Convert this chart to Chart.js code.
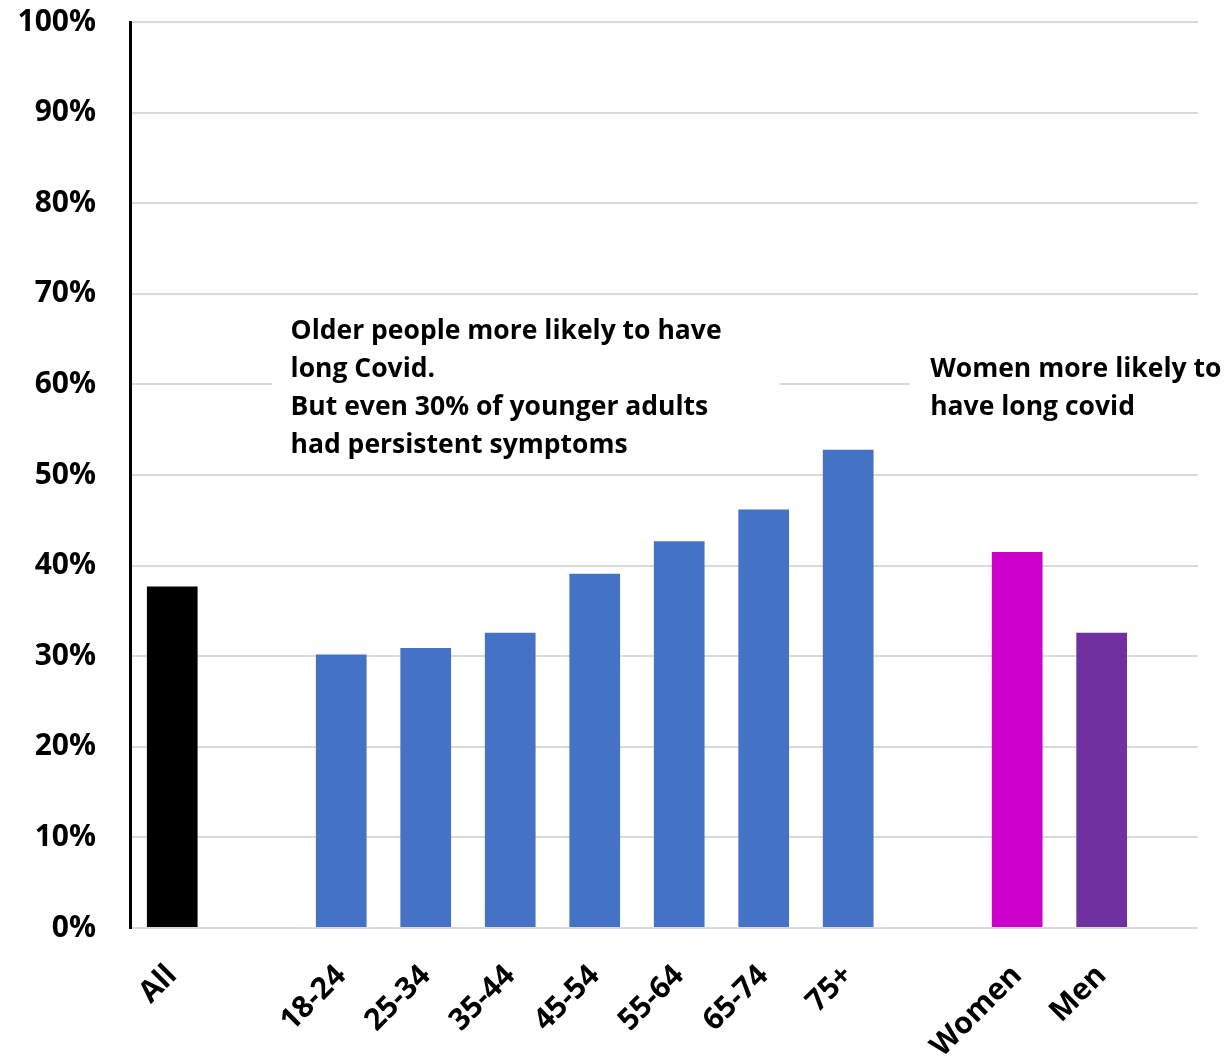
<!DOCTYPE html>
<html>
<head>
<meta charset="utf-8">
<title>Long Covid by group</title>
<script src="https://cdn.jsdelivr.net/npm/chart.js@4/dist/chart.umd.min.js"></script>
<style>
    body { margin: 0; background: #fff; }
    canvas { display: block; }
</style>
</head>
<body>
<canvas id="chart" width="1227" height="1059"></canvas>
<script>
// categories, with blank slots used as gaps between the groups
const categories = ['All', '', '18-24', '25-34', '35-44', '45-54', '55-64', '65-74', '75+', '', 'Women', 'Men'];
const shares = [37.7, null, 30.2, 30.9, 32.6, 39.1, 42.7, 46.2, 52.8, null, 41.5, 32.6];
const yTicks = [0, 10, 20, 30, 40, 50, 60, 70, 80, 90, 100];

const barColors = ['#000000', null, '#4472C4', '#4472C4', '#4472C4', '#4472C4', '#4472C4', '#4472C4', '#4472C4', null, '#CC00CC', '#7030A0'];

const notes = [
    { lines: ['Older people more likely to have', 'long Covid.', 'But even 30% of younger adults', 'had persistent symptoms'],
      x: 1.40, y: 65.8, box: [1.18, 7.19, 67.9, 50.4] },
    { lines: ['Women more likely to', 'have long covid'],
      x: 8.97, y: 61.6, box: [8.73, 12.6, 63.8, 55.5] }
];

const FONT = '"Open Sans", Lato, sans-serif';

// white boxes and text of the two notes, placed through the scales
const notesPlugin = {
    id: 'notes',
    beforeDatasetsDraw(chart) {
        const { ctx, scales: { x, y } } = chart;
        ctx.save();
        ctx.fillStyle = '#ffffff';
        notes.forEach(n => {
            const [x0, x1, y0, y1] = n.box;
            const left = x.getPixelForValue(x0);
            const right = Math.min(x.getPixelForValue(x1), chart.width);
            const top = y.getPixelForValue(y0);
            const bottom = y.getPixelForValue(y1);
            ctx.fillRect(left, top, right - left, bottom - top);
        });
        ctx.restore();
    },
    afterDatasetsDraw(chart) {
        const { ctx, scales: { x, y } } = chart;
        ctx.save();
        ctx.fillStyle = '#000';
        ctx.font = 'bold 26.5px ' + FONT;
        ctx.textBaseline = 'middle';
        ctx.textAlign = 'left';
        notes.forEach(n => {
            const px = x.getPixelForValue(n.x);
            const py = y.getPixelForValue(n.y);
            n.lines.forEach((line, i) => ctx.fillText(line, px, py + i * 38));
        });
        ctx.restore();
    }
};

const points = [];
const colors = [];
shares.forEach((v, i) => {
    if (v !== null) {
        points.push({ x: i, y: v });
        colors.push(barColors[i]);
    }
});

new Chart(document.getElementById('chart').getContext('2d'), {
    type: 'bar',
    data: {
        datasets: [{
            data: points,
            backgroundColor: colors,
            borderWidth: 0,
            barPercentage: 0.6,
            categoryPercentage: 1
        }]
    },
    options: {
        responsive: false,
        animation: false,
        layout: { padding: { top: 22, right: 29, left: 0, bottom: 0 } },
        plugins: {
            legend: { display: false },
            tooltip: { enabled: false }
        },
        scales: {
            x: {
                type: 'linear',
                offset: false,
                min: -0.5,
                max: 12.14,
                grid: { display: false },
                border: { display: false },
                afterBuildTicks: (scale) => {
                    scale.ticks = categories
                        .map((c, i) => ({ value: i }))
                        .filter(t => categories[t.value] !== '');
                },
                afterFit: (scale) => {
                    scale.height = 131;
                    scale.paddingLeft = 0;
                    scale.paddingRight = 0;
                },
                ticks: {
                    autoSkip: false,
                    minRotation: 45,
                    maxRotation: 45,
                    padding: 22,
                    color: '#000',
                    font: { family: FONT, size: 30, weight: 'bold' },
                    callback: (v) => categories[v]
                }
            },
            y: {
                min: 0,
                max: 100,
                afterBuildTicks: (scale) => {
                    scale.ticks = yTicks.map(v => ({ value: v }));
                },
                afterFit: (scale) => {
                    scale.width = 130;
                    scale.paddingTop = 0;
                    scale.paddingBottom = 0;
                },
                grid: { color: '#d9d9d9', lineWidth: 2, drawTicks: false },
                border: { display: true, color: '#000', width: 3 },
                ticks: {
                    padding: 34,
                    color: '#000',
                    font: { family: FONT, size: 30, weight: 'bold' },
                    callback: (v) => v + '%'
                }
            }
        }
    },
    plugins: [notesPlugin]
});
</script>
</body>
</html>
